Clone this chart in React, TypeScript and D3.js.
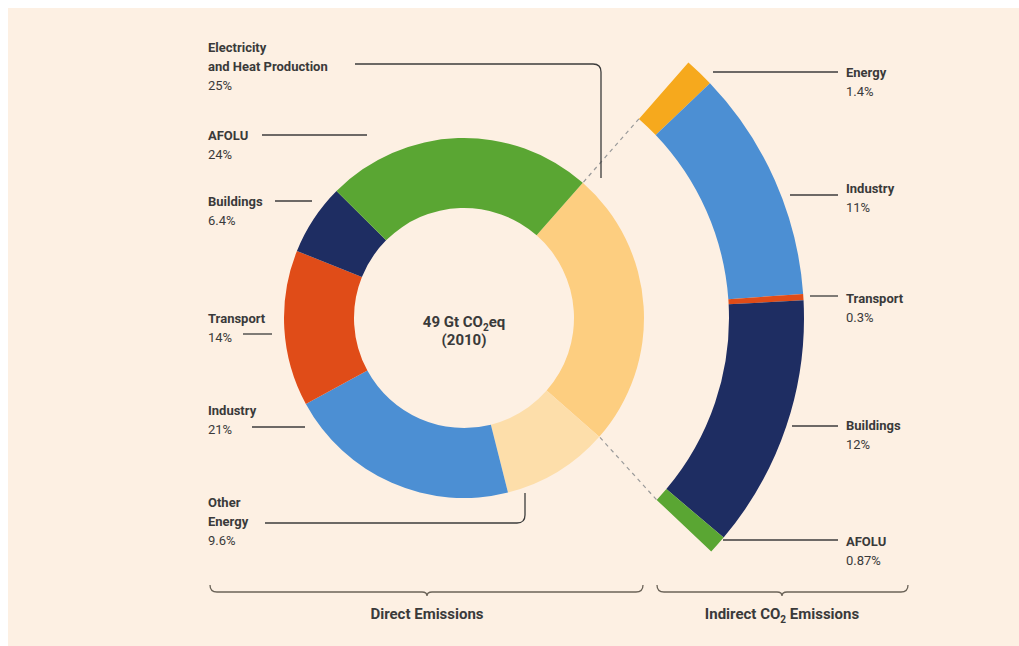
import React from "react";
import * as d3 from "d3";

const directLabels = ["Electricity and Heat Production", "Other Energy", "Industry", "Transport", "Buildings", "AFOLU"];
const directValues = [25, 9.6, 21, 14, 6.4, 24];
const directColors = ["#FDCE80", "#FDDEAA", "#4C8FD3", "#E04C18", "#1E2D62", "#5AA633"];

const indirectLabels = ["Energy", "Industry", "Transport", "Buildings", "AFOLU"];
const indirectValues = [1.4, 11, 0.3, 12, 0.87];
const indirectPct = ["1.4%", "11%", "0.3%", "12%", "0.87%"];
const indirectColors = ["#F6A91D", "#4C8FD3", "#E04C18", "#1E2D62", "#5AA633"];

const W = 1019, H = 646;
const cx = 464, cy = 318;
const startDeg = 41.3;

const FONT = "'Liberation Sans Narrow', 'Roboto', 'Noto Sans', sans-serif";
const TEXT = "#3a3a3a";

export default function App() {
  const angle = d3.scaleLinear().domain([0, 100]).range([0, 2 * Math.PI]);
  const off = (startDeg * Math.PI) / 180;

  const arcIn = d3.arc<any>().innerRadius(110).outerRadius(180);
  const arcOut = d3.arc<any>().innerRadius(265).outerRadius(340);

  let acc = 0;
  const direct = directValues.map((v, i) => {
    const s = off + angle(acc);
    acc += v;
    return { s, e: off + angle(acc), c: directColors[i] };
  });
  acc = 0;
  const indirect = indirectValues.map((v, i) => {
    const s = off + angle(acc);
    acc += v;
    return { s, e: off + angle(acc), c: indirectColors[i] };
  });

  const polar = (a: number, r: number) => [cx + r * Math.sin(a), cy - r * Math.cos(a)];
  const elecEnd = direct[0].e;
  const indEnd = indirect[indirect.length - 1].e;
  const d1a = polar(off, 181), d1b = polar(off, 265);
  const d2a = polar(elecEnd, 181), d2b = polar(indEnd, 265);

  const nameStyle = { fontFamily: FONT, fontSize: 13, fontWeight: 700, fill: TEXT } as any;
  const pctStyle = { fontFamily: FONT, fontSize: 13, fontWeight: 400, fill: TEXT } as any;
  const lineStyle = { stroke: "#3c3c3c", strokeWidth: 1.3, fill: "none" } as any;

  const leftLayout: { name: string[]; pct: string; y: number }[] = [
    { name: ["Electricity", "and Heat Production"], pct: "25%", y: 52 },
    { name: ["AFOLU"], pct: "24%", y: 140 },
    { name: ["Buildings"], pct: "6.4%", y: 206 },
    { name: ["Transport"], pct: "14%", y: 323 },
    { name: ["Industry"], pct: "21%", y: 415 },
    { name: ["Other", "Energy"], pct: "9.6%", y: 507 },
  ];
  const rightY = [77, 193, 303, 430, 546];

  return (
    <svg width={W} height={H} style={{ display: "block", position: "absolute", left: 0, top: 0 }}>
      <rect x={0} y={0} width={W} height={H} fill="#FFFFFF" />
      <rect x={8} y={8} width={W - 8} height={H - 8} fill="#FDF0E3" />
      <g transform={`translate(${cx},${cy})`}>
        {direct.map((d, i) => (
          <path key={"d" + i} d={arcIn({ startAngle: d.s, endAngle: d.e }) as string} fill={d.c} />
        ))}
        {indirect.map((d, i) => (
          <path key={"i" + i} d={arcOut({ startAngle: d.s, endAngle: d.e }) as string} fill={d.c} />
        ))}
      </g>
      <line x1={d1a[0]} y1={d1a[1]} x2={d1b[0]} y2={d1b[1]} stroke="#9a9a9a" strokeWidth={1.2} strokeDasharray="4,4" />
      <line x1={d2a[0]} y1={d2a[1]} x2={d2b[0]} y2={d2b[1]} stroke="#9a9a9a" strokeWidth={1.2} strokeDasharray="4,4" />

      <text x={cx} y={327} textAnchor="middle" style={{ fontFamily: FONT, fontSize: 15, fontWeight: 700, fill: TEXT }}>
        49 Gt CO<tspan fontSize={10} dy={4}>2</tspan><tspan dy={-4}>eq</tspan>
      </text>
      <text x={cx} y={345} textAnchor="middle" style={{ fontFamily: FONT, fontSize: 15, fontWeight: 700, fill: TEXT }}>
        (2010)
      </text>

      {leftLayout.map((l, i) => (
        <g key={"l" + i}>
          {l.name.map((n, j) => (
            <text key={j} x={208} y={l.y + j * 19} style={nameStyle}>{n}</text>
          ))}
          <text x={208} y={l.y + l.name.length * 19} style={pctStyle}>{l.pct}</text>
        </g>
      ))}
      <path d="M355,64 H593 Q601,64 601,72 V178" style={lineStyle} />
      <path d="M262,135 H367" style={lineStyle} />
      <path d="M275,201 H312" style={lineStyle} />
      <path d="M243,334 H272" style={lineStyle} />
      <path d="M252,427 H305" style={lineStyle} />
      <path d="M265,523 H517 Q525,523 525,515 V493" style={lineStyle} />

      {indirectLabels.map((n, i) => (
        <g key={"r" + i}>
          <text x={846} y={rightY[i]} style={nameStyle}>{n}</text>
          <text x={846} y={rightY[i] + 19} style={pctStyle}>{indirectPct[i]}</text>
        </g>
      ))}
      <path d="M713,72 H838" style={lineStyle} />
      <path d="M790,195 H838" style={lineStyle} />
      <path d="M810,296 H838" style={lineStyle} />
      <path d="M792,426 H838" style={lineStyle} />
      <path d="M723,540 H838" style={lineStyle} />

      <path d="M210,585 Q210,592 217,592 H422 Q427,592 427,596 Q427,592 432,592 H636 Q643,592 643,585" style={{ ...lineStyle, stroke: "#6b6358" }} />
      <path d="M657,585 Q657,592 664,592 H777 Q782,592 782,596 Q782,592 787,592 H901 Q908,592 908,585" style={{ ...lineStyle, stroke: "#6b6358" }} />
      <text x={427} y={619} textAnchor="middle" style={{ fontFamily: FONT, fontSize: 15, fontWeight: 700, fill: TEXT }}>
        Direct Emissions
      </text>
      <text x={782} y={619} textAnchor="middle" style={{ fontFamily: FONT, fontSize: 15, fontWeight: 700, fill: TEXT }}>
        Indirect CO<tspan fontSize={10} dy={4}>2</tspan><tspan dy={-4}> Emissions</tspan>
      </text>
    </svg>
  );
}
